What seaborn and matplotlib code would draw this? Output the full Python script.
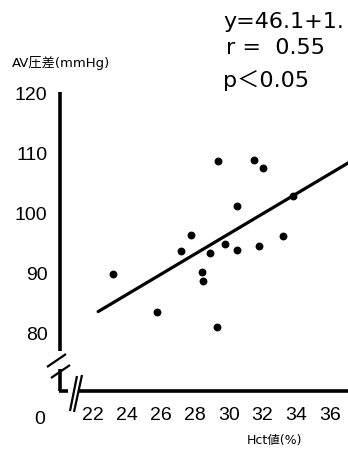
import numpy as np
import pandas as pd
import matplotlib
matplotlib.use("Agg")
import matplotlib.pyplot as plt
from matplotlib.lines import Line2D
import seaborn as sns

# data
hct = [23.2, 25.8, 27.2, 27.8, 28.4, 28.5, 28.9, 29.3, 29.4, 29.8,
       30.5, 30.5, 31.5, 32.0, 31.8, 33.2, 33.8]
av_pressure = [89.8, 83.5, 93.6, 96.3, 90.1, 88.6, 93.3, 81.0, 108.7, 94.8,
               101.1, 93.8, 108.9, 107.5, 94.5, 96.1, 102.9]
intercept = 46.1
slope = 1.68
line_x = [22.3, 37.6]
x_ticks = [22, 24, 26, 28, 30, 32, 34, 36]
y_ticks = [80, 90, 100, 110, 120]

df = pd.DataFrame({"hct": hct, "av": av_pressure})
fit = pd.DataFrame({"hct": line_x})
fit["av"] = intercept + slope * fit["hct"]

sns.set_style("white")
plt.rcParams['font.family'] = ['DejaVu Sans', 'Noto Sans CJK JP']
plt.rcParams['text.color'] = 'black'
plt.rcParams['xtick.color'] = 'black'
plt.rcParams['ytick.color'] = 'black'

W, H = 348, 452
fig = plt.figure(figsize=(W / 100, H / 100), dpi=100)

# axes placed so the data land where they are in the picture
left, right, top, bottom = 60, 348, 94, 392
ax = fig.add_axes([left / W, 1 - bottom / H, (right - left) / W, (bottom - top) / H])
ax.set_xlim(20.05, 37.04)
ax.set_ylim(70.33, 120)

sns.scatterplot(data=df, x="hct", y="av", ax=ax, color="black", s=32,
                edgecolor="black", linewidth=0)
sns.lineplot(data=fit, x="hct", y="av", ax=ax, color="black", lw=2.3)

for s in ax.spines.values():
    s.set_visible(False)

tick_font = ['Liberation Sans', 'DejaVu Sans']
ax.set_xticks(x_ticks)
ax.set_yticks(y_ticks)
ax.set_xticklabels([str(t) for t in x_ticks], fontsize=14, family=tick_font)
ax.set_yticklabels([str(t) for t in y_ticks], fontsize=14, family=tick_font)
ax.tick_params(axis='x', direction='in', length=4, width=2, pad=11)
ax.tick_params(axis='y', direction='in', length=3, width=2, pad=9)
ax.set_xlabel("")
ax.set_ylabel("")


def px(x, y):
    return x / W, 1 - y / H


def seg(p0, p1, lw=2.6):
    (x0, y0), (x1, y1) = px(*p0), px(*p1)
    fig.add_artist(Line2D([x0, x1], [y0, y1], color='black', lw=lw,
                          transform=fig.transFigure, solid_capstyle='butt'))


# hand-drawn looking axes with breaks
seg((60, 93), (60, 352))
seg((47, 368), (66, 355), lw=1.6)
seg((51, 379), (70, 366), lw=1.6)
seg((60, 370), (60, 392))
seg((59, 392), (68, 392))
seg((70, 412), (77, 377), lw=1.6)
seg((74, 413), (82, 376), lw=1.6)
seg((79, 392), (348, 392))

fig.text(*px(40, 419), "0", fontsize=14, family=tick_font, ha='center', va='center')

fig.text(*px(12, 63), "AV圧差(mmHg)", fontsize=9.5, ha='left', va='center')
fig.text(*px(247, 441), "Hct値(%)", fontsize=9, ha='left', va='center')

fig.text(*px(223, 28), "y=46.1+1.", fontsize=16, ha='left', va='baseline')
fig.text(*px(226, 54), "r =  0.55", fontsize=16, ha='left', va='baseline')
fig.text(*px(223, 87), "p＜0.05", fontsize=16, ha='left', va='baseline')

fig.savefig("out.png", dpi=100)
